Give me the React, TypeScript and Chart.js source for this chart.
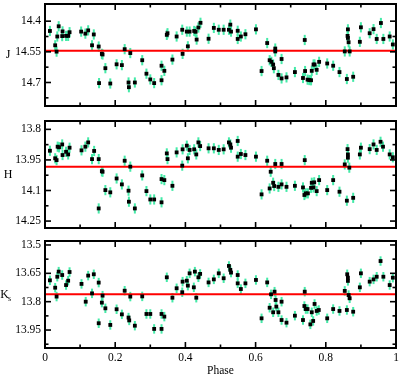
import React, { useEffect, useRef } from 'react';
import { Chart, registerables } from 'chart.js';

Chart.register(...registerables);

// ---------- data ----------
const jPhase = [0.014,0.029,0.033,0.035,0.039,0.049,0.050,0.060,0.066,0.070,0.103,0.115,0.123,0.134,0.139,0.153,0.154,0.162,0.164,0.172,0.186,0.204,0.219,0.227,0.238,0.239,0.243,0.256,0.277,0.289,0.300,0.311,0.332,0.332,0.340,0.347,0.349,0.363,0.375,0.391,0.392,0.404,0.407,0.412,0.425,0.429,0.432,0.437,0.443,0.466,0.481,0.495,0.509,0.524,0.528,0.530,0.549,0.549,0.558,0.571,0.601,0.617,0.633,0.640,0.645,0.650,0.652,0.656,0.656,0.665,0.674,0.674,0.688,0.712,0.735,0.740,0.741,0.748,0.753,0.758,0.760,0.765,0.768,0.774,0.781,0.804,0.821,0.839,0.854,0.860,0.862,0.863,0.863,0.865,0.868,0.878,0.897,0.900,0.925,0.936,0.945,0.957,0.964,0.982,0.991];
const jMag = [14.448,14.518,14.549,14.475,14.425,14.473,14.450,14.472,14.472,14.454,14.451,14.461,14.445,14.518,14.465,14.524,14.703,14.560,14.563,14.630,14.705,14.611,14.615,14.537,14.700,14.723,14.556,14.700,14.591,14.657,14.685,14.703,14.689,14.618,14.643,14.467,14.459,14.588,14.475,14.442,14.560,14.451,14.523,14.451,14.448,14.452,14.490,14.431,14.408,14.486,14.433,14.442,14.442,14.442,14.417,14.451,14.447,14.487,14.475,14.464,14.440,14.644,14.507,14.591,14.599,14.612,14.630,14.548,14.534,14.663,14.585,14.680,14.675,14.649,14.678,14.492,14.644,14.686,14.688,14.689,14.643,14.612,14.612,14.638,14.599,14.607,14.618,14.649,14.548,14.683,14.472,14.440,14.482,14.503,14.548,14.672,14.501,14.430,14.459,14.439,14.487,14.409,14.487,14.475,14.514];
const jMean = 14.545;
const jTicks = [14.4, 14.55, 14.7];
const jMinor = [14.475, 14.625, 14.775];

const hPhase = [0.014,0.029,0.033,0.036,0.040,0.049,0.050,0.060,0.066,0.070,0.104,0.115,0.123,0.134,0.140,0.153,0.153,0.162,0.164,0.172,0.186,0.204,0.219,0.227,0.238,0.239,0.243,0.256,0.277,0.289,0.300,0.311,0.332,0.332,0.340,0.347,0.349,0.363,0.375,0.391,0.392,0.404,0.407,0.412,0.425,0.431,0.437,0.442,0.466,0.481,0.495,0.509,0.524,0.528,0.530,0.549,0.549,0.558,0.571,0.601,0.617,0.633,0.640,0.643,0.650,0.653,0.656,0.665,0.674,0.674,0.688,0.712,0.735,0.740,0.739,0.743,0.749,0.758,0.760,0.765,0.767,0.774,0.781,0.804,0.821,0.839,0.854,0.860,0.862,0.863,0.863,0.867,0.878,0.897,0.900,0.925,0.936,0.945,0.956,0.963,0.982,0.991];
const hMag = [13.905,13.942,13.951,13.885,13.888,13.874,13.926,13.910,13.923,13.890,13.903,13.885,13.864,13.946,13.906,13.946,14.188,14.005,14.008,14.098,14.109,14.041,14.070,13.954,14.101,14.155,13.983,14.188,14.026,14.103,14.144,14.144,14.158,14.044,14.049,13.918,13.946,14.077,13.913,13.978,13.898,13.880,13.942,13.901,13.898,13.923,13.864,13.882,13.893,13.893,13.901,13.898,13.864,13.874,13.890,13.857,13.934,13.921,13.926,13.934,14.119,13.954,14.090,14.008,14.062,14.078,13.970,14.082,13.970,14.070,14.082,14.077,14.085,13.951,14.122,14.114,14.114,14.087,14.062,14.085,14.060,14.103,14.049,14.098,14.049,14.106,13.972,14.150,13.897,13.923,13.939,13.988,14.136,13.923,13.890,13.897,13.874,13.901,13.861,13.885,13.923,13.937];
const hMean = 13.984;
const hTicks = [13.8, 13.95, 14.1, 14.25];
const hMinor = [13.875, 14.025, 14.175];

const kPhase = [0.014,0.029,0.033,0.035,0.039,0.049,0.060,0.066,0.070,0.104,0.116,0.123,0.134,0.139,0.153,0.153,0.162,0.164,0.172,0.186,0.204,0.219,0.227,0.238,0.240,0.243,0.256,0.277,0.289,0.300,0.311,0.332,0.332,0.340,0.347,0.363,0.375,0.391,0.392,0.404,0.407,0.412,0.424,0.431,0.427,0.437,0.442,0.466,0.481,0.495,0.509,0.524,0.528,0.530,0.549,0.549,0.558,0.571,0.601,0.617,0.633,0.640,0.644,0.650,0.654,0.657,0.659,0.665,0.674,0.674,0.688,0.712,0.735,0.740,0.739,0.743,0.748,0.756,0.760,0.764,0.768,0.774,0.780,0.804,0.821,0.839,0.854,0.860,0.861,0.863,0.863,0.865,0.868,0.878,0.897,0.900,0.925,0.936,0.945,0.956,0.964,0.982,0.991];
const kMag = [13.687,13.726,13.773,13.668,13.641,13.659,13.712,13.689,13.643,13.706,13.800,13.662,13.756,13.655,13.699,13.914,13.805,13.768,13.835,13.923,13.840,13.867,13.742,13.884,13.899,13.773,13.927,13.772,13.865,13.865,13.944,13.865,13.944,13.879,13.671,13.779,13.729,13.750,13.694,13.689,13.715,13.650,13.724,13.779,13.641,13.671,13.653,13.698,13.682,13.650,13.676,13.611,13.632,13.646,13.659,13.703,13.733,13.703,13.685,13.888,13.698,13.832,13.761,13.856,13.747,13.791,13.826,13.856,13.800,13.897,13.911,13.874,13.897,13.747,13.823,13.839,13.839,13.920,13.856,13.902,13.812,13.849,13.844,13.888,13.839,13.849,13.743,13.844,13.655,13.673,13.690,13.765,13.782,13.853,13.724,13.650,13.694,13.682,13.668,13.585,13.668,13.712,13.673];
const kMean = 13.761;
const kTicks = [13.5, 13.65, 13.8, 13.95];
const kMinor = [13.575, 13.725, 13.875, 14.025];

const phaseTicks = [0, 0.2, 0.4, 0.6, 0.8, 1];
const phaseMinor = [0.1, 0.3, 0.5, 0.7, 0.9];
const MAG_ERR = 0.025;

// ---------- styles ----------
const FONT = '"Liberation Serif", "Times New Roman", serif';
const ERR_COLOR = '#44eaa8';
const LINE_COLOR = '#ff0000';

type Panel = {
  phase: number[]; mag: number[]; mean: number; ticks: number[]; minor: number[];
  min: number; max: number; title: string; sub?: string;
  top: number; height: number; padTop: number; padBottom: number; showX: boolean;
};

const panels: Panel[] = [
  { phase: jPhase, mag: jMag, mean: jMean, ticks: jTicks, minor: jMinor, min: 14.316, max: 14.815, title: 'J',
    top: 0, height: 110, padTop: 1, padBottom: 2, showX: false },
  { phase: hPhase, mag: hMag, mean: hMean, ticks: hTicks, minor: hMinor, min: 13.759, max: 14.284, title: 'H',
    top: 115, height: 118, padTop: 6, padBottom: 5, showX: false },
  { phase: kPhase, mag: kMag, mean: kMean, ticks: kTicks, minor: kMinor, min: 13.479, max: 14.045, title: 'K', sub: 's',
    top: 235, height: 139, padTop: 6, padBottom: 0, showX: true },
];

function makePlugin(p: Panel) {
  return {
    id: 'panelDecor',
    beforeDatasetsDraw(chart: any) {
      const { ctx, chartArea, scales } = chart;
      const x = scales.x, y = scales.y;
      ctx.save();
      ctx.beginPath();
      ctx.rect(chartArea.left, chartArea.top, chartArea.right - chartArea.left, chartArea.bottom - chartArea.top);
      ctx.clip();
      ctx.fillStyle = ERR_COLOR;
      p.phase.forEach((ph, i) => {
        if (p.mag[i] === undefined) return;
        const px = x.getPixelForValue(ph);
        const y1 = y.getPixelForValue(p.mag[i] - MAG_ERR);
        const y2 = y.getPixelForValue(p.mag[i] + MAG_ERR);
        ctx.fillRect(px - 1, Math.min(y1, y2), 2, Math.abs(y2 - y1));
      });
      ctx.restore();
    },
    afterDraw(chart: any) {
      const { ctx, chartArea, scales } = chart;
      const x = scales.x, y = scales.y;
      const left = chartArea.left, right = chartArea.right, top = chartArea.top, bottom = chartArea.bottom;
      ctx.save();
      ctx.fillStyle = '#000';
      // frame
      ctx.fillRect(left - 1, top - 1, right - left + 2, 2);
      ctx.fillRect(left - 1, bottom - 1, right - left + 2, 2);
      ctx.fillRect(left - 1, top - 1, 2, bottom - top + 2);
      ctx.fillRect(right - 1, top - 1, 2, bottom - top + 2);
      const MAJ = 6, MIN = 3.5, TW = 1.6;
      phaseTicks.forEach((v) => {
        const px = x.getPixelForValue(v);
        ctx.fillRect(px - TW / 2, bottom - MAJ, TW, MAJ);
        ctx.fillRect(px - TW / 2, top, TW, MAJ);
      });
      phaseMinor.forEach((v) => {
        const px = x.getPixelForValue(v);
        ctx.fillRect(px - TW / 2, bottom - MIN, TW, MIN);
        ctx.fillRect(px - TW / 2, top, TW, MIN);
      });
      p.ticks.forEach((v) => {
        const py = y.getPixelForValue(v);
        ctx.fillRect(left, py - TW / 2, MAJ, TW);
        ctx.fillRect(right - MAJ, py - TW / 2, MAJ, TW);
      });
      p.minor.forEach((v) => {
        const py = y.getPixelForValue(v);
        if (py > top + 1 && py < bottom - 1) {
          ctx.fillRect(left, py - TW / 2, MIN, TW);
          ctx.fillRect(right - MIN, py - TW / 2, MIN, TW);
        }
      });

      // axis title
      const cy = (top + bottom) / 2;
      ctx.textBaseline = 'middle';
      ctx.textAlign = 'center';
      ctx.font = `12px ${FONT}`;
      if (p.sub) {
        ctx.fillText(p.title, 4.5, cy);
        ctx.font = `8px ${FONT}`;
        ctx.fillText(p.sub, 9.5, cy + 4);
      } else {
        ctx.fillText(p.title, 8, cy);
      }
      if (p.showX) {
        ctx.font = `11.5px ${FONT}`;
        ctx.fillText('Phase', (left + right) / 2, 370.5 - 235);
      }
      ctx.restore();
    },
  };
}

function PanelChart({ p }: { p: Panel }) {
  const ref = useRef<HTMLCanvasElement | null>(null);
  useEffect(() => {
    if (!ref.current) return;
    const chart = new Chart(ref.current, {
      type: 'scatter',
      data: {
        datasets: [
          {
            type: 'line',
            data: [{ x: 0, y: p.mean }, { x: 1, y: p.mean }],
            borderColor: LINE_COLOR,
            borderWidth: 2,
            pointRadius: 0,
            showLine: true,
            order: 2,
          } as any,
          {
            data: p.phase.map((ph, i) => ({ x: ph, y: p.mag[i] })).filter((d) => d.y !== undefined),
            pointStyle: 'rect',
            pointRadius: 2.7,
            backgroundColor: '#000',
            borderWidth: 0,
            order: 1,
          },
        ],
      },
      options: {
        responsive: false,
        animation: false,
        events: [],
        layout: { padding: { left: 0, right: 3, top: p.padTop, bottom: p.padBottom } },
        plugins: { legend: { display: false }, tooltip: { enabled: false } },
        scales: {
          x: {
            type: 'linear',
            min: 0,
            max: 1,
            display: p.showX,
            grid: { display: false, drawTicks: false, tickLength: 0 },
            border: { display: false },
            afterBuildTicks: (s: any) => { s.ticks = phaseTicks.map((v) => ({ value: v })); },
            afterFit: (s: any) => {
              if (p.showX) s.height = 26; else s.height = 0;
              s.paddingLeft = 0; s.paddingRight = 0;
            },
            ticks: {
              padding: 3,
              color: '#000',
              font: { family: FONT, size: 11.5 },
              maxRotation: 0,
              autoSkip: false,
              callback: (v: any) => String(v),
            },
          },
          y: {
            type: 'linear',
            reverse: true,
            min: p.min,
            max: p.max,
            grid: { display: false, drawTicks: false, tickLength: 0 },
            border: { display: false },
            afterBuildTicks: (s: any) => { s.ticks = p.ticks.map((v) => ({ value: v })); },
            afterFit: (s: any) => { s.width = 45; s.paddingTop = 0; s.paddingBottom = 0; },
            ticks: {
              padding: 4,
              color: '#000',
              font: { family: FONT, size: 11.5 },
              autoSkip: false,
              callback: (v: any) => String(v),
            },
          },
        },
      } as any,
      plugins: [makePlugin(p)],
    });
    return () => chart.destroy();
  }, [p]);
  return (
    <canvas
      ref={ref}
      width={400}
      height={p.height}
      style={{ position: 'absolute', left: 0, top: p.top, width: 400, height: p.height }}
    />
  );
}

export default function App() {
  useEffect(() => {
    document.body.style.margin = '0';
    document.body.style.background = '#fff';
  }, []);
  return (
    <div style={{ position: 'relative', width: 400, height: 374, background: '#fff', overflow: 'hidden' }}>
      {panels.map((p, i) => (
        <PanelChart key={i} p={p} />
      ))}
    </div>
  );
}
